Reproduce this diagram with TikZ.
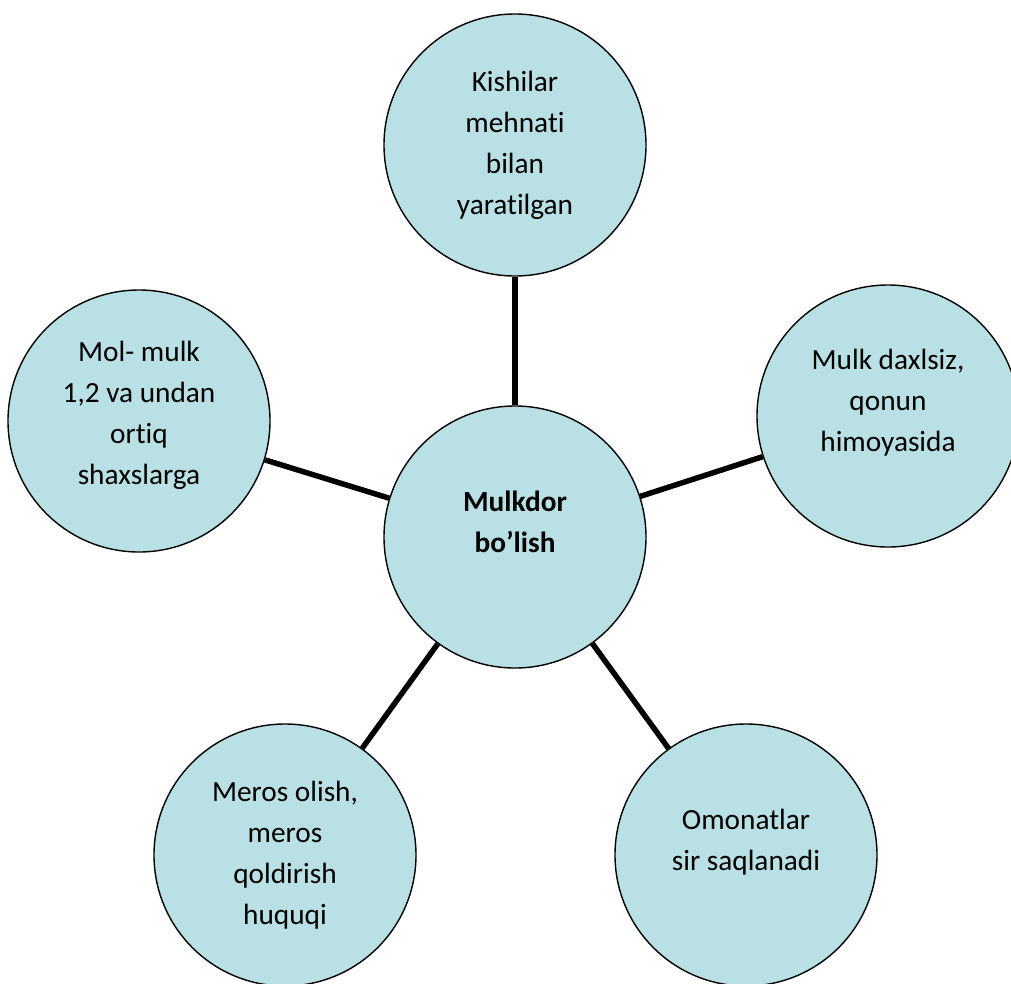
\documentclass[tikz,border=0pt]{standalone}
\usepackage{fontspec}
\setmainfont[Ligatures=NoCommon]{Carlito}
\usepackage{tikz}
\usetikzlibrary{shapes.geometric, positioning}
\definecolor{circfill}{RGB}{185,224,228}
\tikzstyle{hub} = [circle, minimum size=262pt, inner sep=0pt, text centered, align=center, draw=black, line width=1.4pt, fill=circfill, font=\fontsize{29.3}{41}\selectfont\bfseries]
\tikzstyle{spoke} = [circle, minimum size=262pt, inner sep=0pt, text centered, align=center, draw=black, line width=1.4pt, fill=circfill, font=\fontsize{29.3}{41}\selectfont]
\tikzstyle{link} = [line width=5.5pt, black]

\begin{document}
\begin{tikzpicture}[x=1pt, y=1pt]
    \clip (0,0) rectangle (1011,-983);
    \useasboundingbox (0,0) rectangle (1011,-983);
    \node (M) [hub, text depth=30pt] at (515,-537) {Mulkdor\\bo’lish};
    \node (KM) [spoke, above of=M, node distance=392pt] {Kishilar\\mehnati\\bilan\\yaratilgan};
    \node (MD) [spoke, above of=M, node distance=121pt, xshift=373pt, text depth=31pt] {Mulk daxlsiz,\\qonun\\himoyasida};
    \node (MM) [spoke, above of=M, node distance=116pt, xshift=-376pt, text depth=17pt] {Mol- mulk\\1,2 va undan\\ortiq\\shaxslarga};
    \node (MO) [spoke, below of=M, node distance=318pt, xshift=-230pt] {Meros olish,\\meros\\qoldirish\\huquqi};
    \node (OS) [spoke, below of=M, node distance=318pt, xshift=231pt, text depth=31pt] {Omonatlar\\sir saqlanadi};
    \draw [link] (M) -- (KM);
    \draw [link] (M) -- (MD);
    \draw [link] (M) -- (MM);
    \draw [link] (M) -- (MO);
    \draw [link] (M) -- (OS);
\end{tikzpicture}
\end{document}
